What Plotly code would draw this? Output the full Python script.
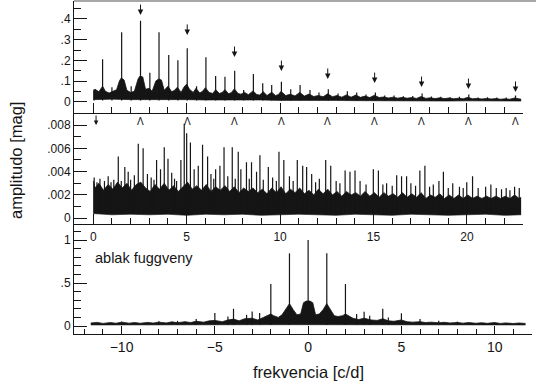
import plotly.graph_objects as go

# ---------------- data: top panel (amplitude spectrum) ----------------
top_band_f = [0.0, 0.1, 0.3, 0.5, 0.65, 0.85, 1.05, 1.25, 1.4, 1.5,
              1.65, 1.8, 2.0, 2.2, 2.4, 2.5, 2.65, 2.8, 3.0, 3.15,
              3.35, 3.5, 3.65, 3.8, 4.0, 4.2, 4.35, 4.5, 4.7, 4.85,
              5.0, 5.15, 5.35, 5.5, 5.7, 5.85, 6.0, 6.2, 6.4, 6.55,
              6.75, 6.9, 7.05, 7.25, 7.4, 7.55, 7.75, 7.9, 8.1, 8.3,
              8.55, 8.75, 8.9, 9.1, 9.3, 9.55, 9.75, 9.9, 10.05, 10.3,
              10.55, 10.8, 11.05, 11.3, 11.55, 11.8, 12.05, 12.3, 12.55, 12.8,
              13.05, 13.3, 13.55, 13.8, 14.05, 14.3, 14.55, 14.8, 15.05, 15.3,
              15.55, 15.8, 16.05, 16.3, 16.55, 16.8, 17.05, 17.3, 17.55, 17.8,
              18.05, 18.3, 18.55, 18.8, 19.05, 19.3, 19.55, 19.8, 20.05, 20.3,
              20.55, 20.8, 21.05, 21.3, 21.55, 21.8, 22.05, 22.3, 22.55, 22.8,
              22.9]
top_band_hi = [0.052, 0.06, 0.048, 0.075, 0.05, 0.042, 0.05, 0.058, 0.1, 0.115,
               0.105, 0.055, 0.045, 0.05, 0.11, 0.124, 0.12, 0.06, 0.065, 0.05,
               0.1, 0.11, 0.105, 0.055, 0.075, 0.048, 0.055, 0.07, 0.045, 0.07,
               0.085, 0.06, 0.045, 0.065, 0.042, 0.05, 0.068, 0.045, 0.04, 0.058,
               0.04, 0.045, 0.058, 0.038, 0.045, 0.062, 0.04, 0.036, 0.045, 0.034,
               0.052, 0.035, 0.032, 0.048, 0.03, 0.046, 0.03, 0.034, 0.05, 0.03,
               0.036, 0.028, 0.045, 0.027, 0.037, 0.025, 0.03, 0.024, 0.038, 0.024,
               0.03, 0.022, 0.033, 0.022, 0.032, 0.021, 0.027, 0.02, 0.031, 0.02,
               0.023, 0.018, 0.022, 0.017, 0.021, 0.017, 0.02, 0.016, 0.025, 0.016,
               0.019, 0.015, 0.019, 0.015, 0.018, 0.014, 0.017, 0.014, 0.021, 0.014,
               0.016, 0.013, 0.016, 0.013, 0.015, 0.012, 0.014, 0.012, 0.018, 0.013,
               0.012]
top_lo_f = [0.0, 1.0, 2.0, 3.0, 4.0, 5.0, 6.0, 7.0, 8.0, 9.0, 10.0, 11.0,
            12.0, 13.0, 14.0, 15.0, 16.0, 17.0, 18.0, 19.0, 20.0, 21.0, 22.0, 22.9]
top_lo = [0.01, 0.012, 0.01, 0.011, 0.009, 0.01, 0.008, 0.009, 0.007, 0.008, 0.006, 0.007,
          0.005, 0.006, 0.005, 0.004, 0.005, 0.004, 0.004, 0.003, 0.004, 0.003, 0.003, 0.003]
top_peak_f = [0.05, 0.5, 1.0, 1.52, 2.03, 2.53, 3.03, 3.52, 4.04, 4.53, 5.03, 5.53, 6.03, 6.55,
              7.05, 7.57, 8.05, 8.57, 9.07, 9.55, 10.07, 10.57, 11.07, 11.6, 12.08,
              12.58, 13.1, 13.6, 14.1, 14.6, 15.1, 15.6, 16.1, 16.6, 17.1, 17.6, 18.1, 18.6,
              19.1, 19.6, 20.1, 20.6, 21.1, 21.6, 22.1, 22.6]
top_peak_a = [0.06, 0.205, 0.07, 0.336, 0.075, 0.392, 0.14, 0.336, 0.226, 0.2, 0.258, 0.075, 0.215, 0.124,
              0.121, 0.15, 0.057, 0.134, 0.089, 0.081, 0.097, 0.06, 0.081, 0.057, 0.045,
              0.06, 0.04, 0.05, 0.045, 0.035, 0.045, 0.03, 0.03, 0.026, 0.028, 0.04, 0.025, 0.024,
              0.022, 0.024, 0.035, 0.02, 0.022, 0.02, 0.02, 0.03]
harm_f = [2.53, 5.03, 7.56, 10.07, 12.55, 15.06, 17.57, 20.08, 22.6]
top_arrow_tip = [0.419, 0.323, 0.216, 0.148, 0.11, 0.09, 0.071, 0.061, 0.047]

# ---------------- data: middle panel (residual spectrum) ----------------
mid_band_f = [0.0, 0.1, 0.3, 0.55, 0.8, 1.05, 1.3, 1.55, 1.8, 2.05,
              2.3, 2.55, 2.8, 3.05, 3.3, 3.55, 3.8, 4.05, 4.3, 4.55,
              4.8, 5.05, 5.3, 5.55, 5.8, 6.05, 6.3, 6.55, 6.8, 7.05,
              7.3, 7.55, 7.8, 8.05, 8.3, 8.55, 8.8, 9.05, 9.3, 9.55,
              9.8, 10.05, 10.3, 10.55, 10.8, 11.05, 11.3, 11.55, 11.8, 12.05,
              12.3, 12.55, 12.8, 13.05, 13.3, 13.55, 13.8, 14.05, 14.3, 14.55,
              14.8, 15.05, 15.3, 15.55, 15.8, 16.05, 16.3, 16.55, 16.8, 17.05,
              17.3, 17.55, 17.8, 18.05, 18.3, 18.55, 18.8, 19.05, 19.3, 19.55,
              19.8, 20.05, 20.3, 20.55, 20.8, 21.05, 21.3, 21.55, 21.8, 22.05,
              22.3, 22.55, 22.8, 22.9]
mid_band_hi = [0.0032, 0.0026, 0.0030, 0.0024, 0.0029, 0.0025, 0.0031, 0.0026, 0.0030, 0.0024,
               0.0029, 0.0031, 0.0026, 0.0023, 0.0029, 0.0025, 0.0030, 0.0024, 0.0028, 0.0023,
               0.0027, 0.0031, 0.0025, 0.0028, 0.0024, 0.0029, 0.0023, 0.0027, 0.0024, 0.0028,
               0.0023, 0.0027, 0.0022, 0.0026, 0.0023, 0.0026, 0.0022, 0.0025, 0.0021, 0.0026,
               0.0022, 0.0027, 0.0021, 0.0025, 0.0022, 0.0026, 0.0021, 0.0024, 0.0020, 0.0025,
               0.0021, 0.0025, 0.0020, 0.0023, 0.0019, 0.0023, 0.0020, 0.0022, 0.0019, 0.0023,
               0.0019, 0.0022, 0.0018, 0.0022, 0.0019, 0.0021, 0.0018, 0.0022, 0.0018, 0.0021,
               0.0018, 0.0022, 0.0017, 0.0020, 0.0018, 0.0021, 0.0017, 0.0020, 0.0017, 0.0020,
               0.0017, 0.0020, 0.0017, 0.0019, 0.0017, 0.0019, 0.0017, 0.0019, 0.0017, 0.0019,
               0.0017, 0.0020, 0.0017, 0.0018]
mid_lo_f = [0.0, 1.0, 2.0, 3.0, 4.0, 5.0, 6.0, 7.0, 8.0, 9.0, 10.0, 11.0,
            12.0, 13.0, 14.0, 15.0, 16.0, 17.0, 18.0, 19.0, 20.0, 21.0, 22.0, 22.9]
mid_lo = [0.0004, 0.0003, 0.00035, 0.0003, 0.00035, 0.00025, 0.00035, 0.0003, 0.00035, 0.00025,
          0.0003, 0.00035, 0.0003, 0.00025, 0.00035, 0.0003, 0.00025, 0.00035, 0.0003, 0.00025,
          0.0003, 0.00035, 0.00025, 0.0003]
mid_peak_f = [0.05, 0.2, 0.36, 0.6, 0.8, 0.95, 1.1, 1.34, 1.5, 1.69, 1.87, 2.0, 2.2, 2.41, 2.67,
              2.9, 3.1, 3.25, 3.39, 3.6, 3.8, 4.0, 4.2, 4.35, 4.46, 4.69, 4.87, 5.0, 5.2, 5.4,
              5.62, 5.85, 6.12, 6.3, 6.45, 6.55, 6.78, 7.0, 7.2, 7.44, 7.6, 7.76, 7.9, 8.2,
              8.35, 8.47, 8.74, 8.92, 9.1, 9.37, 9.6, 9.8, 9.94, 10.2, 10.5, 10.7, 10.92, 11.21,
              11.42, 11.69, 11.9, 12.1, 12.44, 12.71, 13.0, 13.2, 13.48, 13.74, 14.01, 14.28,
              14.6, 14.99, 15.26, 15.5, 15.7, 16.0, 16.24, 16.5, 16.77, 17.0, 17.25, 17.48,
              17.75, 18.0, 18.2, 18.5, 18.74, 19.0, 19.24, 19.6, 19.8, 19.99, 20.3, 20.6, 21.0,
              21.28, 21.57, 21.85, 22.1, 22.3, 22.55, 22.8]
mid_peak_a = [0.0035, 0.0031, 0.0034, 0.0032, 0.0036, 0.0031, 0.0033, 0.0053, 0.0032, 0.0044,
              0.0040, 0.0033, 0.0037, 0.0064, 0.0060, 0.0038, 0.0035, 0.0033, 0.0050, 0.0042,
              0.0061, 0.0051, 0.0039, 0.0034, 0.0032, 0.0050, 0.0081, 0.0073, 0.0065, 0.0042,
              0.0045, 0.0063, 0.0053, 0.0038, 0.0034, 0.0042, 0.0045, 0.0061, 0.0036, 0.0061,
              0.0034, 0.0057, 0.0042, 0.0048, 0.0034, 0.0048, 0.0040, 0.0054, 0.0033, 0.0044,
              0.0035, 0.0032, 0.0057, 0.0050, 0.0036, 0.0032, 0.0050, 0.0045, 0.0044, 0.0038,
              0.0031, 0.0034, 0.0050, 0.0045, 0.0032, 0.0030, 0.0041, 0.0040, 0.0041, 0.0032,
              0.0029, 0.0042, 0.0041, 0.0029, 0.0030, 0.0028, 0.0037, 0.0036, 0.0036, 0.0030,
              0.0028, 0.0041, 0.0045, 0.0027, 0.0029, 0.0032, 0.0040, 0.0026, 0.0030, 0.0027,
              0.0026, 0.0031, 0.0036, 0.0026, 0.0027, 0.0029, 0.0026, 0.0025, 0.0026, 0.0024,
              0.0027, 0.0026]
mid_first_arrow_f = 0.15
mid_first_arrow_tip = 0.0080
mid_mark_y = 0.00834

# ---------------- data: bottom panel (spectral window) ----------------
win_band_f = [-11.65, -11.3, -11.0, -10.6, -10.3, -10.0, -9.6, -9.3, -9.0, -8.6,
              -8.3, -8.0, -7.6, -7.3, -7.0, -6.6, -6.3, -6.0, -5.6, -5.3,
              -5.0, -4.6, -4.3, -4.0, -3.7, -3.4, -3.0, -2.7, -2.4, -2.15,
              -2.0, -1.85, -1.6, -1.4, -1.2, -1.0, -0.8, -0.6, -0.4, -0.25,
              -0.1, 0.0, 0.1, 0.25, 0.4, 0.6, 0.8, 1.0, 1.2, 1.4,
              1.6, 1.85, 2.0, 2.15, 2.4, 2.7, 3.0, 3.4, 3.7, 4.0,
              4.3, 4.6, 5.0, 5.3, 5.6, 6.0, 6.3, 6.6, 7.0, 7.3,
              7.6, 8.0, 8.3, 8.6, 9.0, 9.3, 9.6, 10.0, 10.3, 10.6,
              11.0, 11.3, 11.65]
win_band_hi = [0.035, 0.042, 0.03, 0.04, 0.032, 0.045, 0.033, 0.04, 0.032, 0.042,
               0.034, 0.045, 0.036, 0.048, 0.038, 0.05, 0.04, 0.055, 0.045, 0.06,
               0.065, 0.05, 0.07, 0.08, 0.06, 0.085, 0.09, 0.07, 0.1, 0.12,
               0.14, 0.12, 0.1, 0.13, 0.19, 0.26, 0.19, 0.13, 0.14, 0.27,
               0.29, 0.29, 0.29, 0.27, 0.13, 0.14, 0.19, 0.26, 0.19, 0.12,
               0.11, 0.12, 0.14, 0.12, 0.09, 0.075, 0.09, 0.07, 0.065, 0.085,
               0.06, 0.055, 0.07, 0.05, 0.045, 0.05, 0.04, 0.045, 0.037, 0.043,
               0.035, 0.042, 0.033, 0.04, 0.032, 0.038, 0.031, 0.04, 0.03, 0.036,
               0.029, 0.035, 0.03]
win_lo_f = [-11.65, -8.0, -4.0, -2.0, 0.0, 2.0, 4.0, 8.0, 11.65]
win_lo = [0.012, 0.01, 0.013, 0.015, 0.015, 0.015, 0.013, 0.01, 0.012]
win_peak_f = [-10.0, -8.0, -7.0, -6.0, -5.0, -4.3, -4.0, -3.3, -3.0, -2.6, -2.0, -1.0, 0.0, 1.0, 2.0,
              2.6, 3.0, 3.3, 4.0, 4.3, 5.0, 6.0, 7.0, 8.0]
win_peak_a = [0.05, 0.055, 0.06, 0.08, 0.15, 0.11, 0.2, 0.13, 0.17, 0.15, 0.488, 0.845, 1.0, 0.845, 0.488,
              0.14, 0.166, 0.12, 0.2, 0.1, 0.147, 0.08, 0.06, 0.05]

FONT = "Liberation Sans, Arial, Helvetica, sans-serif"
INK = "#151515"


def spikes(fs, amps, base):
    xs, ys = [], []
    for f, a in zip(fs, amps):
        xs += [f, f, None]
        ys += [base, a, None]
    return xs, ys


fig = go.Figure()


def add_panel(xa, ya, lo_f, lo, band_f, band_hi, pk_f, pk_a, base):
    fig.add_trace(go.Scatter(x=lo_f, y=lo, mode="lines", line=dict(color=INK, width=0.6),
                             xaxis=xa, yaxis=ya, hoverinfo="skip"))
    fig.add_trace(go.Scatter(x=band_f, y=band_hi, mode="lines", fill="tonexty",
                             fillcolor=INK, line=dict(color=INK, width=0.8),
                             xaxis=xa, yaxis=ya, hoverinfo="skip"))
    sx, sy = spikes(pk_f, pk_a, base)
    fig.add_trace(go.Scatter(x=sx, y=sy, mode="lines", line=dict(color=INK, width=1.2),
                             xaxis=xa, yaxis=ya, hoverinfo="skip"))


add_panel("x", "y", top_lo_f, top_lo, top_band_f, top_band_hi, top_peak_f, top_peak_a, 0.006)
add_panel("x2", "y2", mid_lo_f, mid_lo, mid_band_f, mid_band_hi, mid_peak_f, mid_peak_a, 0.0004)
add_panel("x3", "y3", win_lo_f, win_lo, win_band_f, win_band_hi, win_peak_f, win_peak_a, 0.012)

W, H = 536, 390
def px(v):
    return v / W
def py(v):
    return 1 - v / H

common = dict(showline=True, linecolor=INK, linewidth=1, ticks="inside", tickcolor=INK,
              showgrid=False, zeroline=False, tickfont=dict(family=FONT, size=12, color=INK))

xa_top = dict(common, range=[-1.03, 23.0], domain=[px(74), px(523)], tick0=0, dtick=5,
              ticklen=10, minor=dict(ticks="inside", ticklen=6, dtick=1, tick0=0, tickcolor=INK))
fig.update_layout(
    xaxis=dict(xa_top, anchor="y", showticklabels=False),
    xaxis2=dict(xa_top, anchor="y2", showticklabels=True, ticklabelstandoff=2),
    xaxis3=dict(common, anchor="y3", range=[-12.55, 12.0], domain=[px(74), px(532)],
                tick0=0, dtick=5, ticklen=8,
                minor=dict(ticks="inside", ticklen=5, dtick=1, tick0=0, tickcolor=INK),
                tickfont=dict(family=FONT, size=14, color=INK)),
    yaxis=dict(common, anchor="x", domain=[py(112.7), py(1)], range=[-0.0532, 0.487],
               tickvals=[0, 0.1, 0.2, 0.3, 0.4], ticktext=["0", ".1", ".2", ".3", ".4"],
               ticklen=13, minor=dict(ticks="inside", ticklen=7, dtick=0.05, tick0=0, tickcolor=INK)),
    yaxis2=dict(common, anchor="x2", domain=[py(224), py(112.7)], range=[-0.00049, 0.009055],
                tickvals=[0, 0.002, 0.004, 0.006, 0.008],
                ticktext=["0", ".002", ".004", ".006", ".008"],
                ticklen=13, minor=dict(ticks="inside", ticklen=7, dtick=0.001, tick0=0, tickcolor=INK)),
    yaxis3=dict(common, anchor="x3", domain=[py(334), py(224)], range=[-0.093, 1.186],
                tickvals=[0, 0.5, 1], ticktext=["0", ".5", "1"],
                ticklen=13, minor=dict(ticks="inside", ticklen=7, dtick=0.1, tick0=0, tickcolor=INK)),
    width=W, height=H, margin=dict(l=0, r=0, t=0, b=0),
    paper_bgcolor="white", plot_bgcolor="white", showlegend=False,
    font=dict(family=FONT, color=INK),
)

ann = []
for f, tip in zip(harm_f, top_arrow_tip):
    ann.append(dict(x=f, y=tip, xref="x", yref="y", text="", showarrow=True, ax=0, ay=-12,
                    arrowhead=2, arrowsize=1.1, arrowwidth=1, arrowcolor=INK))
ann.append(dict(x=mid_first_arrow_f, y=mid_first_arrow_tip, xref="x2", yref="y2", text="",
                showarrow=True, ax=0, ay=-11, arrowhead=2, arrowsize=0.9, arrowwidth=1, arrowcolor=INK))
for f in harm_f:
    ann.append(dict(x=f, y=mid_mark_y, xref="x2", yref="y2", text="Λ", showarrow=False,
                    font=dict(family=FONT, size=10, color=INK), yanchor="middle"))
ann.append(dict(x=-11.55, y=0.79, xref="x3", yref="y3", text="ablak fuggveny", showarrow=False,
                xanchor="left", yanchor="middle", font=dict(family=FONT, size=14.5, color=INK)))
ann.append(dict(x=px(16), y=py(161), xref="paper", yref="paper", text="amplitudo [mag]",
                showarrow=False, textangle=-90, xanchor="center", yanchor="middle",
                font=dict(family=FONT, size=16.5, color=INK)))
ann.append(dict(x=px(308), y=py(372), xref="paper", yref="paper", text="frekvencia [c/d]",
                showarrow=False, xanchor="center", yanchor="middle",
                font=dict(family=FONT, size=16.5, color=INK)))
fig.update_layout(annotations=ann)
fig.add_shape(type="line", xref="paper", yref="paper", x0=px(74), x1=1, y0=py(1), y1=py(1),
              line=dict(color="#8a8a8a", width=1.5))

fig.write_html("out.html")
